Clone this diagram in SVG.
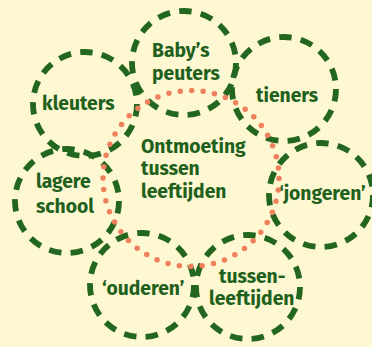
<svg xmlns="http://www.w3.org/2000/svg" width="372" height="347" viewBox="0 0 372 347">
  <style>
    .ring { fill: none; stroke: #23661f; stroke-width: 5.8; stroke-dasharray: 12.5 9.3; }
    .dots { fill: none; stroke: #ef805e; stroke-width: 5.5; stroke-linecap: round; stroke-dasharray: 0 11.52; }
    .lbl { font-family: "Fira Sans", "Open Sans", sans-serif; font-weight: 700; font-size: 19.3px; fill: #1f611c; }
  </style>
  <rect width="372" height="347" fill="#fdf8d1"/>
  <g id="connectors"></g>
  <g id="node-babys">
    <circle class="ring" cx="184" cy="63" r="52"/>
    <text class="lbl" x="152" y="57">Baby’s</text>
    <text class="lbl" x="152" y="80">peuters</text>
  </g>
  <g id="node-kleuters">
    <circle class="ring" cx="85" cy="104" r="52"/>
    <text class="lbl" x="42" y="110">kleuters</text>
  </g>
  <g id="node-tieners">
    <circle class="ring" cx="284" cy="89" r="52"/>
    <text class="lbl" x="256" y="102">tieners</text>
  </g>
  <g id="node-jongeren">
    <circle class="ring" cx="321" cy="195" r="52"/>
    <text class="lbl" x="279" y="200">‘jongeren’</text>
  </g>
  <g id="node-tussenleeftijden">
    <circle class="ring" cx="248" cy="287" r="52"/>
    <text class="lbl" x="219" y="283">tussen-</text>
    <text class="lbl" x="209" y="305">leeftijden</text>
  </g>
  <g id="node-ouderen">
    <circle class="ring" cx="142" cy="285" r="52"/>
    <text class="lbl" x="102" y="295">‘ouderen’</text>
  </g>
  <g id="node-lagere-school">
    <circle class="ring" cx="67" cy="201" r="52"/>
    <text class="lbl" x="36" y="188">lagere</text>
    <text class="lbl" x="36" y="213">school</text>
  </g>
  <g id="node-center">
    <circle class="dots" cx="191" cy="178.5" r="88"/>
    <text class="lbl" x="141" y="153">Ontmoeting</text>
    <text class="lbl" x="141" y="175">tussen</text>
    <text class="lbl" x="141" y="198">leeftijden</text>
  </g>
</svg>
